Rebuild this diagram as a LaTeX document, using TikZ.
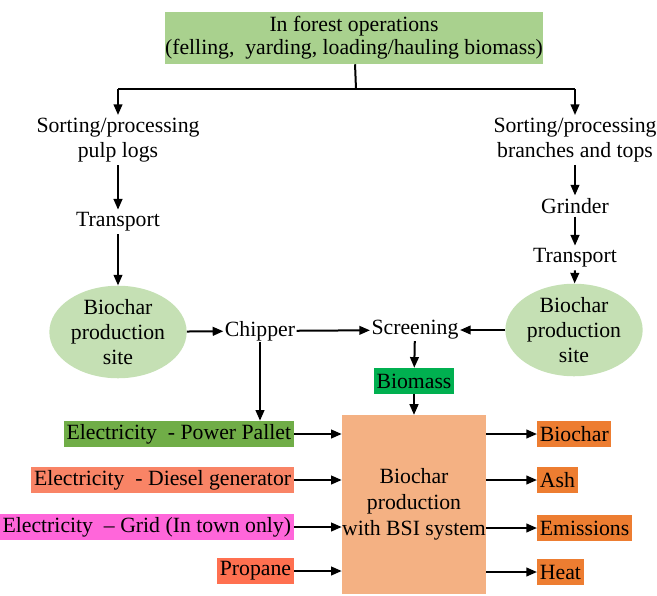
\documentclass[tikz,border=0pt]{standalone}
\usepackage{fontspec}
\setmainfont{Liberation Serif}
\usetikzlibrary{arrows.meta,shapes.geometric}
\definecolor{topgreen}{HTML}{A9D18E}
\definecolor{sitegreen}{HTML}{C5E0B4}
\definecolor{massgreen}{HTML}{00B050}
\definecolor{palletgreen}{HTML}{70AD47}
\definecolor{diesel}{HTML}{F98466}
\definecolor{grid}{HTML}{FF66DA}
\definecolor{propane}{HTML}{FF7050}
\definecolor{outorange}{HTML}{ED7D31}
\definecolor{bsi}{HTML}{F4B183}
\begin{document}
\begin{tikzpicture}[x=0.75pt, y=-0.75pt, font=\fontsize{16.3}{18.8}\selectfont,
	flow/.style={-{Triangle[length=8pt,width=6.5pt]}, line width=1.5pt},
	plain/.style={inner sep=2pt, align=center},
	fillbox/.style={inner sep=2pt, minimum height=19.5pt},
	site/.style={ellipse, fill=sitegreen, minimum width=103pt, minimum height=56pt, inner sep=0pt, align=center}]
	\useasboundingbox (0,0) rectangle (657,596);
	%top
	\node[fill=topgreen, minimum width=283.5pt, minimum height=39pt, inner sep=0pt, align=center,
	font=\fontsize{16.3}{17.3}\selectfont] (forest) at (354,38)
	{In forest operations\\(felling,\ \ yarding,\ loading/hauling biomass)};
	\coordinate (split) at (356,89);
	\coordinate (lsplit) at (118,89);
	\coordinate (rsplit) at (575,89);
	%left branch
	\node[plain] (sortL) at (118,140) {Sorting/processing\\pulp logs};
	\node[plain] (transL) at (118,222) {Transport};
	\node[site] (siteL) at (118,332) {Biochar\\production\\site};
	\node[plain, inner sep=1pt] (chipper) at (260,331) {Chipper};
	%right branch
	\node[plain] (sortR) at (575,140) {Sorting/processing\\branches and tops};
	\node[plain] (grinder) at (575,206) {Grinder};
	\node[plain] (transR) at (575,258) {Transport};
	\node[site] (siteR) at (574,330) {Biochar\\production\\site};
	\node[plain, inner sep=1pt] (screen) at (415,330) {Screening};
	\node[fillbox, fill=massgreen] (biomass) at (414,381) {Biomass};
	%center
	\node[fill=bsi, minimum width=108pt, minimum height=134pt, inner sep=0pt, align=center,
	font=\fontsize{16.3}{19.5}\selectfont] (bsi) at (414,504.5)
	{Biochar\\production\\with BSI system};
	%inputs
	\foreach \name/\y/\col/\txt in {
		pallet/434/palletgreen/{Electricity\ \ - Power Pallet},
		diesel/480/diesel/{Electricity\ \ - Diesel\ generator},
		grid/527/grid/{Electricity\ \ -- Grid (In town only)},
		propane/571/propane/{Propane}}
	\node[fillbox, fill=\col, anchor=east] (\name) at (294,\y) {\txt};
	%outputs
	\foreach \name/\y/\txt in {
		biochar/434/Biochar,
		ash/480/Ash,
		emis/528/Emissions,
		heat/572/Heat}
	\node[fillbox, fill=outorange, anchor=west] (\name) at (537,\y) {\txt};
	%connectors
	\draw[line width=1.5pt] (forest) -- (split);
	\draw[line width=1.5pt] (lsplit) -- (rsplit);
	\draw[flow] (lsplit) -- (sortL);
	\draw[flow] (rsplit) -- (sortR);
	\draw[flow] (sortL) -- (transL);
	\draw[flow] (transL) -- (siteL);
	\draw[flow] (siteL) -- (chipper);
	\draw[flow] (chipper) -- (screen);
	\draw[flow] (chipper.south) -- (chipper.south |- pallet.north);
	\draw[flow] (sortR) -- (grinder);
	\draw[flow] (grinder) -- (transR);
	\draw[flow] (transR) -- (siteR);
	\draw[flow] (siteR) -- (screen);
	\draw[flow] (screen) -- (biomass);
	\draw[flow] (biomass) -- (bsi);
	\foreach \name in {pallet,diesel,grid,propane}
	\draw[flow] (\name.east) -- (\name.east -| bsi.west);
	\foreach \name in {biochar,ash,emis,heat}
	\draw[flow] (\name.west -| bsi.east) -- (\name.west);
\end{tikzpicture}
\end{document}
